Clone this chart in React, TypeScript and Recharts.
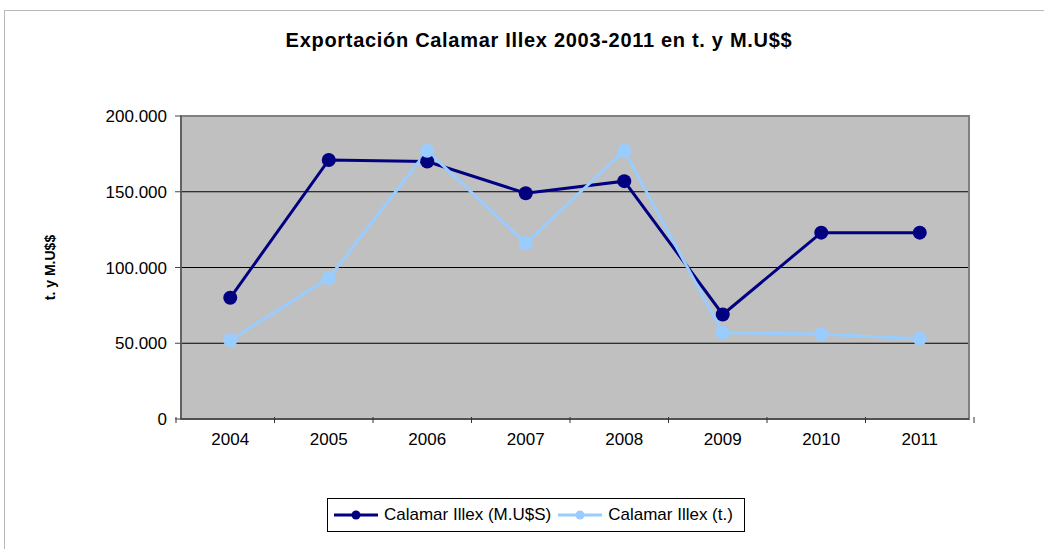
import {
  LineChart,
  Line,
  XAxis,
  YAxis,
  CartesianGrid,
  Legend,
  ReferenceArea,
} from 'recharts';

const years = ['2004', '2005', '2006', '2007', '2008', '2009', '2010', '2011'];
const usdValues = [80000, 171000, 170000, 149000, 157000, 69000, 123000, 123000];
const tonValues = [52000, 93000, 177000, 116000, 177000, 57000, 56000, 53000];
const yTicks = [0, 50000, 100000, 150000, 200000];

const USD_NAME = 'Calamar Illex (M.U$S)';
const TON_NAME = 'Calamar Illex (t.)';
const DARK = '#000080';
const LIGHT = '#99ccff';
const FONT = '"Liberation Sans", Arial, sans-serif';

const data = years.map((year, i) => ({ year, usd: usdValues[i], ton: tonValues[i] }));

// chart frame
const W = 1044;
const H = 549;
const MARGIN = { top: 116, right: 75, left: 101, bottom: 100 };
const BAND = (W - MARGIN.left - MARGIN.right) / years.length;

function formatThousands(value: number) {
  return String(value).replace(/\B(?=(\d{3})+(?!\d))/g, '.');
}

function XTick(props: any) {
  const { x, y, payload, index } = props;
  const isLast = index === years.length - 1;
  const axisY = y - 8;
  return (
    <g>
      <line x1={x - BAND / 2} x2={x - BAND / 2} y1={axisY - 2} y2={axisY + 4} stroke="#333" />
      {isLast && (
        <line x1={x + BAND / 2} x2={x + BAND / 2} y1={axisY - 2} y2={axisY + 4} stroke="#333" />
      )}
      <text x={x} y={axisY + 26} textAnchor="middle" fontSize={17} fontFamily={FONT} fill="#000">
        {payload.value}
      </text>
    </g>
  );
}

function LegendBox() {
  const item = (color: string, label: string) => (
    <span style={{ display: 'inline-flex', alignItems: 'center', marginRight: 5 }}>
      <svg width={48} height={12} style={{ marginRight: 4 }}>
        <line x1={2} x2={46} y1={6} y2={6} stroke={color} strokeWidth={3} />
        <circle cx={24} cy={6} r={4.5} fill={color} />
      </svg>
      <span>{label}</span>
    </span>
  );
  return (
    <div
      style={{
        border: '1px solid #000',
        background: '#fff',
        width: 418,
        height: 34,
        boxSizing: 'border-box',
        display: 'flex',
        alignItems: 'center',
        paddingLeft: 4,
        fontFamily: FONT,
        fontSize: 17,
        color: '#000',
        whiteSpace: 'nowrap',
      }}
    >
      {item(DARK, USD_NAME)}
      {item(LIGHT, TON_NAME)}
    </div>
  );
}

function YTitle(props: any) {
  const { viewBox } = props;
  const cx = 50;
  const cy = viewBox.y + viewBox.height / 2;
  return (
    <text
      x={cx}
      y={cy}
      transform={`rotate(-90, ${cx}, ${cy})`}
      textAnchor="middle"
      dominantBaseline="central"
      fontSize={14}
      fontWeight="bold"
      fontFamily={FONT}
      fill="#000"
    >
      t. y M.U$$
    </text>
  );
}

export default function App() {
  return (
    <div style={{ position: 'absolute', left: 0, top: 0, width: W, height: H, background: '#fff', overflow: 'hidden' }}>
      <div
        style={{
          position: 'absolute',
          left: 4,
          top: 10,
          width: W + 20,
          height: H + 20,
          border: '1px solid #b8b8b8',
        }}
      />
      <div
        style={{
          position: 'absolute',
          left: 0,
          top: 29,
          width: 1078,
          textAlign: 'center',
          fontFamily: FONT,
          fontWeight: 'bold',
          fontSize: 20,
          letterSpacing: 0.7,
          color: '#000',
        }}
      >
        Exportación Calamar Illex 2003-2011 en t. y M.U$$
      </div>
      <LineChart width={W} height={H} data={data} margin={MARGIN} style={{ position: 'absolute', left: 0, top: 0 }}>
        <CartesianGrid vertical={false} stroke="#000" fill="#c0c0c0" fillOpacity={1} />
        <ReferenceArea y1={0} y2={200000} fill="none" stroke="#808080" strokeWidth={2} ifOverflow="extendDomain" />
        <XAxis
          dataKey="year"
          scale="band"
          axisLine={{ stroke: '#222' }}
          tickLine={false}
          tick={<XTick />}
          height={30}
          interval={0}
        />
        <YAxis
          domain={[0, 200000]}
          ticks={yTicks}
          width={80}
          tickFormatter={formatThousands}
          tick={{ fontSize: 17, fontFamily: FONT, fill: '#000' }}
          axisLine={{ stroke: '#444' }}
          tickLine={{ stroke: '#444' }}
          tickSize={6}
          tickMargin={8}
          label={{ content: <YTitle /> }}
        />
        <Legend
          layout="horizontal"
          verticalAlign="middle"
          content={<LegendBox />}
          wrapperStyle={{ left: 327, top: 498, width: 420 }}
        />
        <Line
          dataKey="usd"
          name={USD_NAME}
          stroke={DARK}
          strokeWidth={3}
          dot={{ r: 7, fill: DARK, stroke: DARK, strokeWidth: 0 }}
          activeDot={false}
          isAnimationActive={false}
        />
        <Line
          dataKey="ton"
          name={TON_NAME}
          stroke={LIGHT}
          strokeWidth={3}
          dot={{ r: 7, fill: LIGHT, stroke: LIGHT, strokeWidth: 0 }}
          activeDot={false}
          isAnimationActive={false}
        />
      </LineChart>
    </div>
  );
}
